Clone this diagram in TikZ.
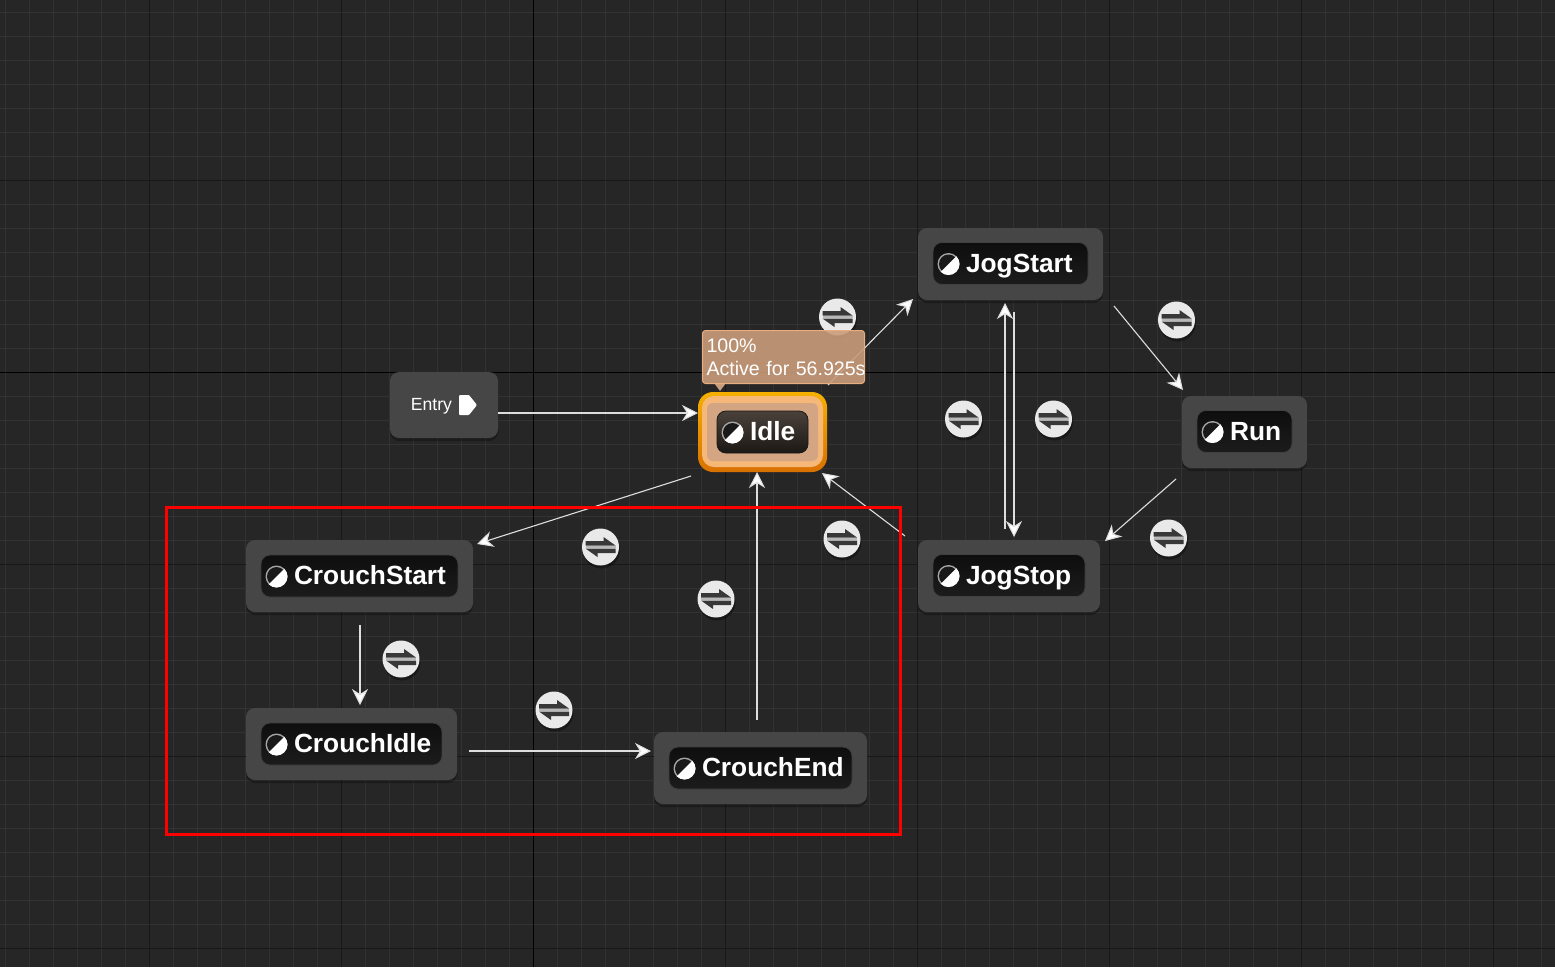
\documentclass[tikz,border=0pt]{standalone}
\usepackage{fontspec}
\setmainfont{Liberation Sans}
\usetikzlibrary{arrows.meta,calc,shadows}
\definecolor{bgc}{HTML}{262626}
\definecolor{minorc}{HTML}{323232}
\definecolor{majorc}{HTML}{181818}
\definecolor{boxc}{HTML}{464646}
\definecolor{wirec}{HTML}{DEDEDE}
\definecolor{discc}{HTML}{E9E9E9}
\definecolor{glyphc}{HTML}{383838}
\definecolor{tipc}{HTML}{C99C7A}
\definecolor{tipe}{HTML}{E8AE80}
\definecolor{idletop}{HTML}{F5B000}
\definecolor{idlebot}{HTML}{D97000}
\definecolor{idlering}{HTML}{F6B878}
\definecolor{idlein}{HTML}{D3A582}
\definecolor{idlepa}{HTML}{4A413A}
\definecolor{idlepb}{HTML}{1C1815}
\definecolor{pilla}{HTML}{0E0E0E}
\definecolor{pillb}{HTML}{1C1C1C}
\tikzset{
  x=1pt,y=-1pt,
  statebox/.style={rectangle,rounded corners=9pt,fill=boxc,inner sep=0pt,outer sep=0pt,
    drop shadow={shadow xshift=0pt,shadow yshift=-3pt,opacity=.28,fill=black}},
  pill/.style={rectangle,rounded corners=9pt,draw=black!75,line width=.8pt,top color=pilla,bottom color=pillb,
    inner xsep=0pt,inner ysep=0pt,outer sep=0pt,minimum height=42pt,text=white,align=left,
    text height=22pt,text depth=5pt,
    font=\fontsize{26.3}{27}\selectfont\bfseries},
  idlepill/.style={pill,top color=idlepa,bottom color=idlepb,draw=idlepb},
  wire/.style={draw=wirec,line width=1.1pt,-{Stealth[length=16pt,width=16pt,inset=5pt,fill=white]}},
  xfer/.style={circle,fill=discc,minimum size=37pt,inner sep=0pt,outer sep=0pt,
    drop shadow={shadow xshift=1pt,shadow yshift=-3pt,opacity=.35,fill=black},
    path picture={
      \begin{scope}[shift={(path picture bounding box.center)}]
        \fill[glyphc] (-15,-6) -- (3,-6) -- (3,-10) -- (15,-1.5) -- (-15,-1.5) -- cycle;
        \fill[glyphc] (15,6) -- (-3,6) -- (-3,10) -- (-15,1.5) -- (15,1.5) -- cycle;
        \fill[black!28] (-15,-1) rectangle (15,1);
      \end{scope}
    }},
  stateicon/.pic={
    \fill[black!35] (0,0) circle[radius=11];
    \fill[black!90] (0,0) circle[radius=9.5];
    \fill[white] (-45:11) arc[start angle=-45,end angle=135,radius=11] -- cycle;
  }
}
\begin{document}
\begin{tikzpicture}
\useasboundingbox (0,0) rectangle (1555,967);
\fill[bgc] (0,0) rectangle (1555,967);
% grid
\foreach \k in {0,...,64} \draw[minorc,line width=.9pt] ({5+24*\k},0) -- ({5+24*\k},967);
\foreach \k in {0,...,40} \draw[minorc,line width=.9pt] (0,{12+24*\k}) -- (1555,{12+24*\k});
\foreach \k in {0,...,7} \draw[majorc,line width=1pt] ({149+192*\k},0) -- ({149+192*\k},967);
\foreach \k in {0,...,4} \draw[majorc,line width=1pt] (0,{180+192*\k}) -- (1555,{180+192*\k});
\draw[black,line width=1pt] (533,0) -- (533,967);
\draw[black,line width=1pt] (0,372) -- (1555,372);

% state boxes
\node[statebox,minimum width=108pt,minimum height=66pt] (entry) at (444,405) {};
\node[statebox,minimum width=185pt,minimum height=72pt] (jogstart) at (1010.5,264) {};
\node[statebox,minimum width=125pt,minimum height=72pt] (run) at (1244.5,432) {};
\node[statebox,minimum width=182pt,minimum height=72pt] (jogstop) at (1009,576) {};
\node[statebox,minimum width=227pt,minimum height=72pt] (crouchstart) at (359.5,576) {};
\node[statebox,minimum width=211pt,minimum height=72pt] (crouchidle) at (351.5,744) {};
\node[statebox,minimum width=213pt,minimum height=72pt] (crouchend) at (760.5,768) {};
\node[rectangle,rounded corners=15pt,top color=idletop,bottom color=idlebot,inner sep=0pt,outer sep=0pt,minimum width=129pt,minimum height=80pt] (idle) at (762.5,432) {};
\node[rectangle,rounded corners=12pt,fill=idlering,inner sep=0pt,minimum width=121pt,minimum height=71pt] (idlebody) at ($(idle.center)+(0,-.5)$) {};
\node[rectangle,rounded corners=6pt,fill=idlein,inner sep=0pt,minimum width=111pt,minimum height=58pt] (idleinner) at (idle.center) {};

% entry content
\node[text=white,font=\fontsize{17.6}{18}\selectfont,inner sep=0pt] (entrytext) at (431.5,406.5) {Entry};
\fill[white,rounded corners=1pt] (459,395) -- (469,395) -- (477,405) -- (469,415) -- (459,415) -- cycle;

% pills
\node[pill,text width=155pt] (pjogstart) at (1010.5,263.5) {\hspace*{33pt}JogStart};
\node[idlepill,text width=91pt] (pidle) at (762.5,432) {\hspace*{33pt}Idle};
\node[pill,text width=95pt] (prun) at (1244.5,431.5) {\hspace*{33pt}Run};
\node[pill,text width=152pt] (pjogstop) at (1009,575.5) {\hspace*{33pt}JogStop};
\node[pill,text width=197pt] (pcrouchstart) at (359.5,576) {\hspace*{33pt}CrouchStart};
\node[pill,text width=181pt] (pcrouchidle) at (351.5,744) {\hspace*{33pt}CrouchIdle};
\node[pill,text width=183pt] (pcrouchend) at (760.5,768) {\hspace*{33pt}CrouchEnd};
\foreach \p in {pjogstart,pidle,prun,pjogstop,pcrouchstart,pcrouchidle,pcrouchend}
  \pic at ($(\p.west)+(15.5,0.5)$) {stateicon};

% connectors
\draw[wire] ($(entry.east)+(0,8)$) -- ($(idle.west)+(0,-19)$);
\draw[wire] ($(idle.north east)+(1,-7)$) -- ($(jogstart.south west)+(-5,-1)$);
\draw[wire] ($(jogstart.south east)+(11,6)$) -- ($(run.north west)+(1,-6)$);
\draw[wire] ($(run.south west)+(-6,11)$) -- ($(jogstop.north east)+(5,1)$);
\draw[wire] ($(jogstart.south)+(3.5,12)$) -- ($(jogstop.north)+(5,-3)$);
\draw[wire] ($(jogstop.north)+(-4,-11)$) -- ($(jogstart.south)+(-5.5,3)$);
\draw[wire] ($(jogstop.north west)+(-13,-4)$) -- ($(idle.south east)+(-5,1)$);
\draw[wire] ($(idle.south west)+(-7,4)$) -- ($(crouchstart.north east)+(4,4)$);
\draw[wire] ($(crouchstart.south)+(.5,13)$) -- ($(crouchidle.north)+(8.5,-3)$);
\draw[wire] ($(crouchidle.east)+(12,7)$) -- ($(crouchend.west)+(-3,-17)$);
\draw[wire] ($(crouchend.north)+(-3.5,-12)$) -- ($(idle.south)+(-5.5,0)$);

% transition icons
\node[xfer] (t1) at (837.5,317) {};
\node[xfer] (t2) at (1176.5,320) {};
\node[xfer] (t3) at (963.5,419) {};
\node[xfer] (t4) at (1053.5,419) {};
\node[xfer] (t5) at (1168.5,538) {};
\node[xfer] (t6) at (842,539) {};
\node[xfer] (t7) at (600.5,547) {};
\node[xfer] (t8) at (716,599) {};
\node[xfer] (t9) at (401,659) {};
\node[xfer] (t10) at (554,710) {};

% tooltip
\fill[tipc] (714,383) -- (726,383) -- (720,391) -- cycle;
\node[rectangle,rounded corners=3pt,draw=tipe,line width=1pt,fill=tipc,fill opacity=.9,draw opacity=1,text opacity=1,text=white,
  minimum width=162pt,minimum height=53pt,inner sep=0pt,outer sep=0pt,text width=154pt,align=left,
  font=\fontsize{19.6}{23}\selectfont] (tip) at (783.5,357) {100\%\\\mbox{Active for 56.925s}};

% selection frame
\node[rectangle,draw=red,line width=3pt,minimum width=734pt,minimum height=327pt,inner sep=0pt,outer sep=0pt] (frame) at (533,670.5) {};
\end{tikzpicture}
\end{document}
